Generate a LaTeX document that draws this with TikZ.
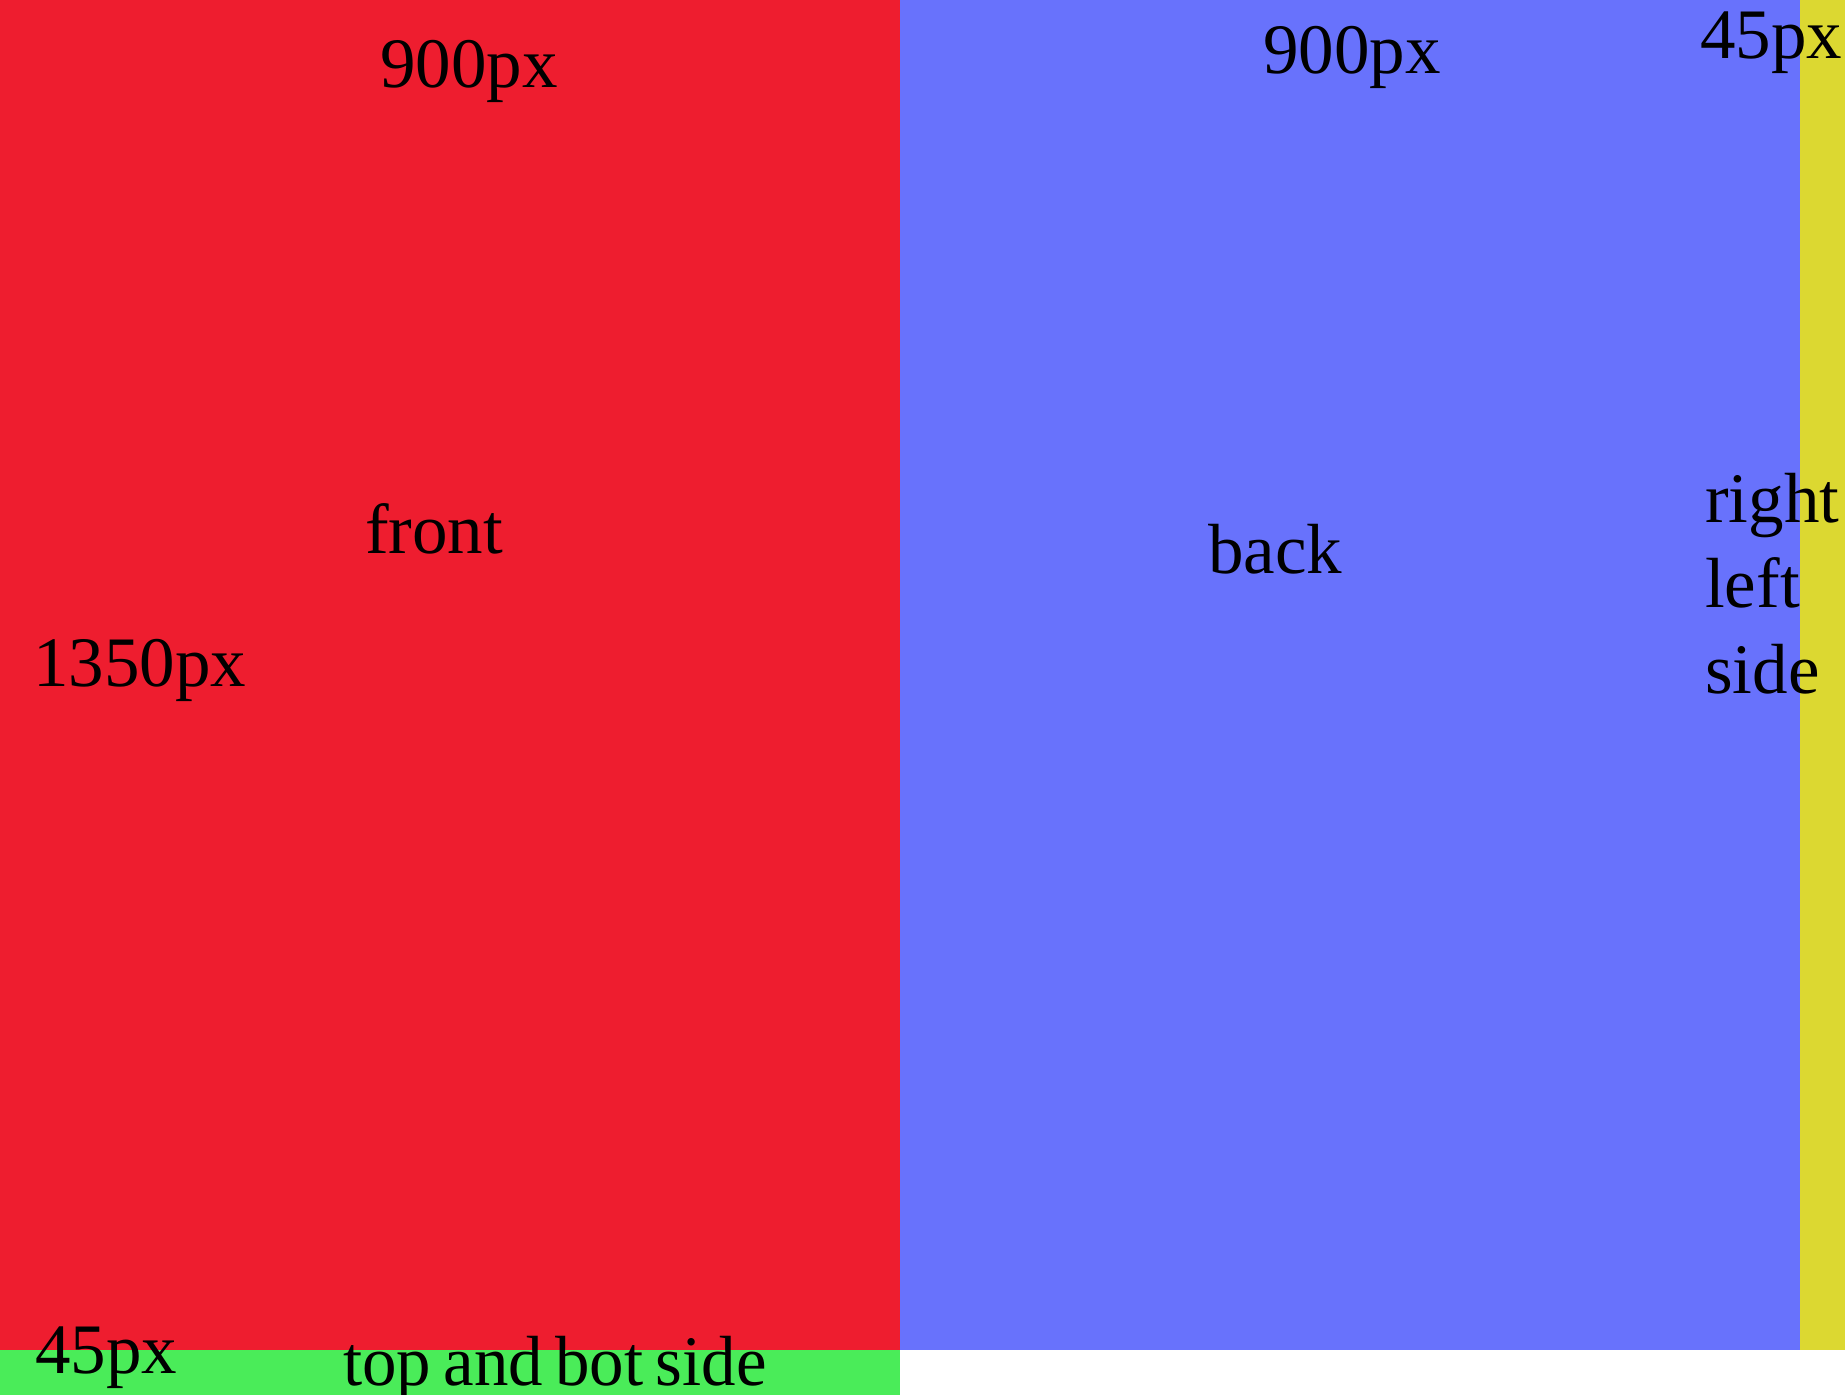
\documentclass[tikz,border=0pt]{standalone}
\usepackage{fontspec}
\setmainfont{Liberation Serif}
\definecolor{cred}{RGB}{238,29,47}
\definecolor{cblue}{RGB}{104,114,252}
\definecolor{cyel}{RGB}{220,216,49}
\definecolor{cgreen}{RGB}{74,236,89}
\begin{document}
\begin{tikzpicture}[x=1pt,y=-1pt,
  lab/.style={anchor=base west,inner sep=0pt,font=\fontsize{71}{84}\selectfont,text=black}]
\useasboundingbox (0,0) rectangle (1845,1395);
\clip (0,0) rectangle (1845,1395);
\fill[white] (0,0) rectangle (1845,1395);
\fill[cred] (0,0) rectangle (900,1350);
\fill[cblue] (900,0) rectangle (1800,1350);
\fill[cyel] (1800,0) rectangle (1845,1350);
\fill[cgreen] (0,1350) rectangle (900,1395);
\node[lab] (w1) at (380,87) {900px};
\node[lab] (w2) at (1263,73) {900px};
\node[lab] (w3) at (1700,58) {45px};
\node[lab] (fr) at (365,553) {front};
\node[lab] (h1) at (33,686) {1350px};
\node[lab] (bk) at (1208,573) {back};
\node[lab] (r1) at (1705,522) {right};
\node[lab] (r2) at (1705,607) {left};
\node[lab] (r3) at (1705,693) {side};
\node[lab] (b1) at (35,1373) {45px};
\node[lab] (b2) at (343,1385) {\spaceskip=0.18em\scalebox{0.97}[1]{top and bot side}};
\end{tikzpicture}
\end{document}
